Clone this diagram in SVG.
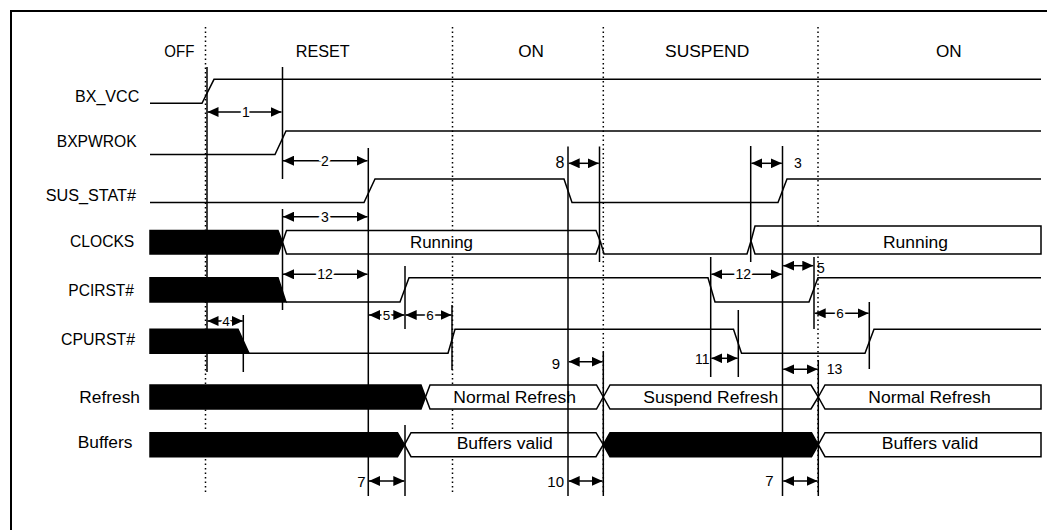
<svg xmlns="http://www.w3.org/2000/svg" width="1047" height="530" viewBox="0 0 1047 530">
<defs>
<marker id="ah" viewBox="0 0 11 10" refX="11" refY="5" markerWidth="11" markerHeight="10" markerUnits="userSpaceOnUse" orient="auto-start-reverse"><path d="M0,0 L11,5 L0,10 z" fill="#000"/></marker>
</defs>
<style>
text{font-family:"Liberation Sans",Arial,sans-serif;fill:#000}
.lbl{font-size:16px}
.ph{font-size:16px}
.bt{font-size:16px}
.n{font-size:14px;text-anchor:middle;stroke:#fff;stroke-width:5px;paint-order:stroke}
.ns{font-size:13.5px;text-anchor:middle;stroke:#fff;stroke-width:4px;paint-order:stroke}
.no{font-size:15px}
.w{fill:none;stroke:#000;stroke-width:1.5}
.bus{fill:#fff;stroke:#000;stroke-width:1.5;stroke-linejoin:miter}
.blk{fill:#000;stroke:#000;stroke-width:1.5}
.dot{stroke:#000;stroke-width:1.5;stroke-dasharray:1.5 3}
.ref{stroke:#000;stroke-width:1.5}
.arr{stroke:#000;stroke-width:1.5;marker-start:url(#ah);marker-end:url(#ah)}
</style>
<rect width="1047" height="530" fill="#fff"/>
<rect x="11" y="11" width="1100" height="600" fill="none" stroke="#000" stroke-width="2"/>

<g id="phases">
<line class="dot" x1="205.5" y1="27" x2="205.5" y2="494"/>
<line class="dot" x1="452.5" y1="27" x2="452.5" y2="494"/>
<line class="dot" x1="603.3" y1="27" x2="603.3" y2="494"/>
<line class="dot" x1="818" y1="27" x2="818" y2="494"/>
<text class="ph" x="164.3" y="57" textLength="30" lengthAdjust="spacingAndGlyphs">OFF</text>
<text class="ph" x="295.7" y="57" textLength="54" lengthAdjust="spacingAndGlyphs">RESET</text>
<text class="ph" x="518.3" y="57" textLength="25.7" lengthAdjust="spacingAndGlyphs">ON</text>
<text class="ph" x="665" y="57" textLength="84.3" lengthAdjust="spacingAndGlyphs">SUSPEND</text>
<text class="ph" x="936" y="57" textLength="25.7" lengthAdjust="spacingAndGlyphs">ON</text>
</g>

<g id="sig-bx_vcc">
<text class="lbl" x="75" y="101.7" textLength="64.3" lengthAdjust="spacingAndGlyphs">BX_VCC</text>
<path class="w" d="M150,103.3 L202,103.3 L214,79.3 L1041,79.3"/>
</g>

<g id="sig-bxpwrok">
<text class="lbl" x="56.7" y="146.7" textLength="80" lengthAdjust="spacingAndGlyphs">BXPWROK</text>
<path class="w" d="M150,154.5 L275,154.5 L286,131 L1041,131"/>
</g>

<g id="sig-sus_stat">
<text class="lbl" x="45.7" y="200.7" textLength="90.3" lengthAdjust="spacingAndGlyphs">SUS_STAT#</text>
<path class="w" d="M150,202.5 L364,202.5 L375,179 L564,179 L572,202.5 L778,202.5 L787,179 L1041,179"/>
</g>

<g id="sig-clocks">
<text class="lbl" x="70" y="246.7" textLength="64.3" lengthAdjust="spacingAndGlyphs">CLOCKS</text>
<polygon class="blk" points="150,230.5 278,230.5 282.5,242 278,254 150,254"/>
<path class="bus" d="M282.5,242 L286.5,230.5 L596,230.5 L600.5,242 L596,254 L286.5,254 Z"/>
<path class="w" d="M600.5,242 L604,254 L747,254 L751,241"/>
<path class="bus" d="M751,241 L755,226 L1041,226 L1041,254 L755,254 Z"/>
<text class="bt" x="410" y="247.7" textLength="63" lengthAdjust="spacingAndGlyphs">Running</text>
<text class="bt" x="883" y="247.7" textLength="65" lengthAdjust="spacingAndGlyphs">Running</text>
</g>

<g id="sig-pcirst">
<text class="lbl" x="68.3" y="295.7" textLength="65.7" lengthAdjust="spacingAndGlyphs">PCIRST#</text>
<polygon class="blk" points="150,277.7 278,277.7 286,302 150,302"/>
<path class="w" d="M286,302 L400,302 L409,277.7 L708,277.7 L715,302 L809,302 L818,277.7 L1041,277.7"/>
</g>

<g id="sig-cpurst">
<text class="lbl" x="61" y="345" textLength="74" lengthAdjust="spacingAndGlyphs">CPURST#</text>
<polygon class="blk" points="150,329.3 238,329.3 249,353.3 150,353.3"/>
<path class="w" d="M249,353.3 L448,353.3 L455,329.3 L733.5,329.3 L741.5,353.3 L865,353.3 L874,329.3 L1041,329.3"/>
</g>

<g id="sig-refresh">
<text class="lbl" x="79.3" y="403.3" textLength="60.7" lengthAdjust="spacingAndGlyphs">Refresh</text>
<polygon class="blk" points="150,385 421,385 425.5,397 421,409 150,409"/>
<path class="bus" d="M425.5,397 L430,385 L596.5,385 L603.3,397 L596.5,409 L430,409 Z"/>
<path class="bus" d="M603.3,397 L610,385 L811,385 L818.3,397 L811,409 L610,409 Z"/>
<path class="bus" d="M818.3,397 L825,385 L1041,385 L1041,409 L825,409 Z"/>
<text class="bt" x="453.3" y="402.7" textLength="122.7" lengthAdjust="spacingAndGlyphs">Normal Refresh</text>
<text class="bt" x="643.3" y="402.7" textLength="135" lengthAdjust="spacingAndGlyphs">Suspend Refresh</text>
<text class="bt" x="868.3" y="402.7" textLength="122.4" lengthAdjust="spacingAndGlyphs">Normal Refresh</text>
</g>

<g id="sig-buffers">
<text class="lbl" x="77.7" y="448.3" textLength="54.7" lengthAdjust="spacingAndGlyphs">Buffers</text>
<polygon class="blk" points="150,432.7 397.5,432.7 404.5,444.7 397.5,456.7 150,456.7"/>
<path class="bus" d="M404.5,444.7 L411,432.7 L596,432.7 L603.3,444.7 L596,456.7 L411,456.7 Z"/>
<polygon class="blk" points="603.3,444.7 610,432.7 811.5,432.7 818.3,444.7 811.5,456.7 610,456.7"/>
<path class="bus" d="M818.3,444.7 L825,432.7 L1041,432.7 L1041,456.7 L825,456.7 Z"/>
<text class="bt" x="456.7" y="449.3" textLength="96" lengthAdjust="spacingAndGlyphs">Buffers valid</text>
<text class="bt" x="881.7" y="449.3" textLength="96.6" lengthAdjust="spacingAndGlyphs">Buffers valid</text>
</g>

<g id="connectors">
<line class="ref" x1="207" y1="67" x2="207" y2="372"/>
<line class="ref" x1="282.5" y1="67" x2="282.5" y2="179"/>
<line class="ref" x1="282.5" y1="209" x2="282.5" y2="310"/>
<line class="ref" x1="243.3" y1="315" x2="243.3" y2="372"/>
<line class="ref" x1="368.3" y1="148" x2="368.3" y2="496"/>
<line class="ref" x1="405" y1="266" x2="405" y2="329"/>
<line class="ref" x1="405" y1="425" x2="405" y2="496"/>
<line class="ref" x1="452" y1="305" x2="452" y2="370"/>
<line class="ref" x1="568" y1="146.5" x2="568" y2="496"/>
<line class="ref" x1="599.5" y1="146.5" x2="599.5" y2="262"/>
<line class="ref" x1="603.3" y1="352" x2="603.3" y2="496"/>
<line class="ref" x1="710.7" y1="257" x2="710.7" y2="377"/>
<line class="ref" x1="738.3" y1="310" x2="738.3" y2="377"/>
<line class="ref" x1="750.7" y1="146" x2="750.7" y2="262"/>
<line class="ref" x1="782.5" y1="146" x2="782.5" y2="496"/>
<line class="ref" x1="814" y1="257" x2="814" y2="329"/>
<line class="ref" x1="818.3" y1="360" x2="818.3" y2="496"/>
<line class="ref" x1="869.3" y1="302" x2="869.3" y2="369"/>

<line class="arr" x1="207.5" y1="112" x2="281.5" y2="112"/>
<text class="n" x="246" y="117">1</text>
<line class="arr" x1="283" y1="160.7" x2="367.5" y2="160.7"/>
<text class="n" x="325" y="165.7">2</text>
<line class="arr" x1="283" y1="216.7" x2="367.5" y2="216.7"/>
<text class="n" x="325" y="221.7">3</text>
<line class="arr" x1="283" y1="274.3" x2="367.5" y2="274.3"/>
<text class="n" x="325" y="279.3">12</text>
<line class="arr" x1="207.5" y1="321" x2="242.8" y2="321"/>
<text class="ns" x="226" y="325.8">4</text>
<line class="arr" x1="369" y1="315" x2="404.3" y2="315"/>
<text class="ns" x="386.5" y="319.8">5</text>
<line class="arr" x1="405.7" y1="315" x2="451.5" y2="315"/>
<text class="ns" x="430" y="319.8">6</text>
<line class="arr" x1="568.7" y1="163.3" x2="598.8" y2="163.3"/>
<text class="no" x="564.5" y="168.3" text-anchor="end" style="font-size:16px">8</text>
<line class="arr" x1="751.4" y1="163.3" x2="781.8" y2="163.3"/>
<text class="no" x="794" y="168.3" style="font-size:14px">3</text>
<line class="arr" x1="711.4" y1="274.3" x2="781.8" y2="274.3"/>
<text class="n" x="743.3" y="279.3">12</text>
<line class="arr" x1="783.2" y1="265.7" x2="813.3" y2="265.7"/>
<text class="no" x="817" y="273.3" style="font-size:14px">5</text>
<line class="arr" x1="814.7" y1="313.3" x2="868.6" y2="313.3"/>
<text class="ns" x="840" y="318.1">6</text>
<line class="arr" x1="568.7" y1="361.7" x2="602.6" y2="361.7"/>
<text class="no" x="560" y="368.5" text-anchor="end">9</text>
<line class="arr" x1="711.4" y1="358.3" x2="737.6" y2="358.3"/>
<text class="no" x="709.5" y="363.5" text-anchor="end" style="font-size:14px">11</text>
<line class="arr" x1="783.2" y1="369.3" x2="817.6" y2="369.3"/>
<text class="no" x="826.7" y="374.3" style="font-size:14px">13</text>
<line class="arr" x1="369" y1="481" x2="404.3" y2="481"/>
<text class="no" x="365.5" y="486.5" text-anchor="end">7</text>
<line class="arr" x1="568.7" y1="481" x2="602.6" y2="481"/>
<text class="no" x="564" y="486.5" text-anchor="end">10</text>
<line class="arr" x1="783.2" y1="481" x2="817.6" y2="481"/>
<text class="no" x="773.5" y="485.5" text-anchor="end">7</text>
</g>
</svg>
